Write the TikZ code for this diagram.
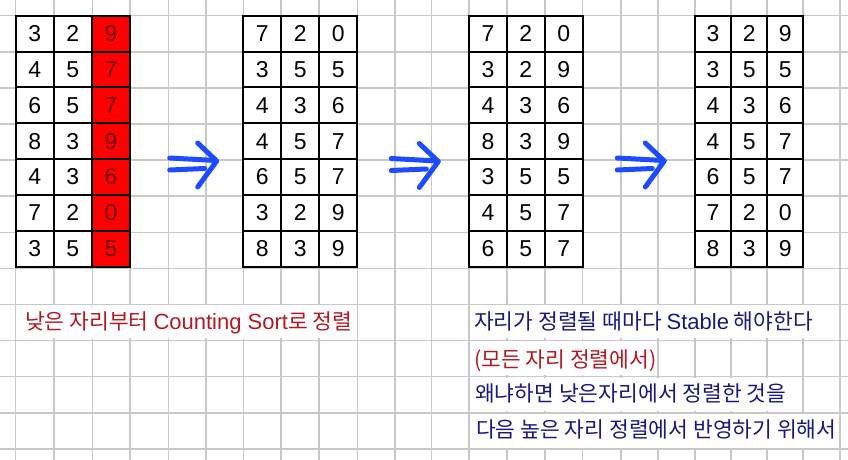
\documentclass[tikz,border=0pt]{standalone}
\usepackage{fontspec}
\setmainfont{Liberation Sans}
\newfontfamily\kor{Noto Sans CJK KR}
\usetikzlibrary{calc}
\definecolor{gridgray}{RGB}{200,200,200}
\definecolor{cellred}{RGB}{255,0,0}
\definecolor{digitred}{RGB}{110,0,0}
\definecolor{notered}{RGB}{180,25,35}
\definecolor{noteblue}{RGB}{25,25,125}
\definecolor{arrowblue}{RGB}{30,75,255}
\newcommand{\lat}[1]{{\rmfamily\fontsize{22}{24}\selectfont #1}}
\newcommand{\drawtable}[1][]{%
\fill[white] (0,0) rectangle (3,7);
\draw[line cap=rect,line width=2pt,#1] (0,0) rectangle (3,7);
\foreach \i in {1,2} {\draw[line width=2pt,#1] (\i,0) -- (\i,7);}
\foreach \j in {1,...,6} {\draw[line width=2pt,#1] (0,\j) -- (3,\j);}
}
\newcommand{\fillcell}[2]{%
\fill[cellred] (#1,#2) rectangle ++ (1,1);
}
\newcommand{\namerow}[6][]{%
\node[digit] (#2r#3a) at ($(0,#3)+(0.5,0.5)$) {#4};
\node[digit] (#2r#3b) at ($(1,#3)+(0.5,0.5)$) {#5};
\node[digit,#1] (#2r#3c) at ($(2,#3)+(0.5,0.5)$) {#6};
}
\newcommand{\whitebox}[4]{%
\fill[white] (#1,#2) rectangle (#3,#4);
}
\newcommand{\drawarrow}[3]{%
\coordinate (#1) at (#2,#3);
\draw[handarrow] ($(#1)+(-47,-3)$) -- ($(#1)+(-1,-0.5)$);
\draw[handarrow] ($(#1)+(-47,9)$) -- ($(#1)+(-12,7.5)$);
\draw[handarrow] ($(#1)+(-19,-18)$) -- (#1) -- ($(#1)+(-19,26)$);
}

\begin{document}
\begin{tikzpicture}[x=1pt,y=-1pt,
  digit/.style={inner sep=0pt,font=\fontsize{23}{23}\selectfont},
  notetext/.style={anchor=base west,inner sep=0pt,font=\kor\fontsize{21.5}{24}\selectfont},
  gridline/.style={gridgray,line width=1.5pt},
  handarrow/.style={arrowblue,line width=5pt,line cap=round,line join=round}]

\useasboundingbox (0,0) rectangle (848,460);
\fill[white] (0,0) rectangle (848,460);

% background grid
\foreach \gx in {15.7,54,92.3,130,168.3,206,243.3,281,319,357.3,395,431.7,469,507,545,582.7,621,658,695,731,767,803,840} {
\draw[gridline] (\gx,0) -- (\gx,460);
}
\foreach \gy in {0,...,12} {
\draw[gridline] (0,15.7+36.1*\gy) -- (848,15.7+36.1*\gy);
}

% table 1
\begin{scope}[shift={(15.7,15.7)},x=38.1pt,y=-35.86pt]
\fill[white] (0,0) rectangle (3,7);
\foreach \j in {0,...,6} {\fillcell{2}{\j}}
\draw[line cap=rect,line width=2pt] (0,0) rectangle (3,7);
\foreach \i in {1,2} {\draw[line width=2pt] (\i,0) -- (\i,7);}
\foreach \j in {1,...,6} {\draw[line width=2pt] (0,\j) -- (3,\j);}

\namerow[digitred]{ta}{0}{3}{2}{9}
\namerow[digitred]{ta}{1}{4}{5}{7}
\namerow[digitred]{ta}{2}{6}{5}{7}
\namerow[digitred]{ta}{3}{8}{3}{9}
\namerow[digitred]{ta}{4}{4}{3}{6}
\namerow[digitred]{ta}{5}{7}{2}{0}
\namerow[digitred]{ta}{6}{3}{5}{5}
\end{scope}

% table 2
\begin{scope}[shift={(243.3,15.7)},x=38pt,y=-35.86pt]
\drawtable
\namerow{tb}{0}{7}{2}{0}
\namerow{tb}{1}{3}{5}{5}
\namerow{tb}{2}{4}{3}{6}
\namerow{tb}{3}{4}{5}{7}
\namerow{tb}{4}{6}{5}{7}
\namerow{tb}{5}{3}{2}{9}
\namerow{tb}{6}{8}{3}{9}
\end{scope}

% table 3
\begin{scope}[shift={(469,15.7)},x=37.9pt,y=-35.86pt]
\drawtable
\namerow{tc}{0}{7}{2}{0}
\namerow{tc}{1}{3}{2}{9}
\namerow{tc}{2}{4}{3}{6}
\namerow{tc}{3}{8}{3}{9}
\namerow{tc}{4}{3}{5}{5}
\namerow{tc}{5}{4}{5}{7}
\namerow{tc}{6}{6}{5}{7}
\end{scope}

% table 4
\begin{scope}[shift={(695,15.7)},x=36.1pt,y=-35.86pt]
\drawtable
\namerow{td}{0}{3}{2}{9}
\namerow{td}{1}{3}{5}{5}
\namerow{td}{2}{4}{3}{6}
\namerow{td}{3}{4}{5}{7}
\namerow{td}{4}{6}{5}{7}
\namerow{td}{5}{7}{2}{0}
\namerow{td}{6}{8}{3}{9}
\end{scope}

% arrows
\drawarrow{arrowa}{216.7}{161}
\drawarrow{arrowb}{438.3}{161.5}
\drawarrow{arrowc}{664.3}{161}

% notes
\whitebox{17}{305}{356}{337.5}
\node[notetext,notered] (lownote) at (25,329) {낮은 자리부터 \lat{Counting Sort}로 정렬};

\whitebox{470.5}{305}{838.5}{337.5}
\whitebox{470.5}{340.5}{656.5}{374.5}
\whitebox{470.5}{377.5}{801.5}{411}
\whitebox{470.5}{413.5}{838.5}{447.5}
\node[notetext,noteblue] (stablenote) at (474,329) {자리가 정렬될 때마다 \lat{Stable} 해야한다};
\node[notetext,notered] (allnote) at (474,367) {(모든 자리 정렬에서)};
\node[notetext,noteblue] (whynote) at (475,401) {왜냐하면 낮은자리에서 정렬한 것을};
\node[notetext,noteblue] (nextnote) at (476,437) {다음 높은 자리 정렬에서 반영하기 위해서};

\end{tikzpicture}
\end{document}
